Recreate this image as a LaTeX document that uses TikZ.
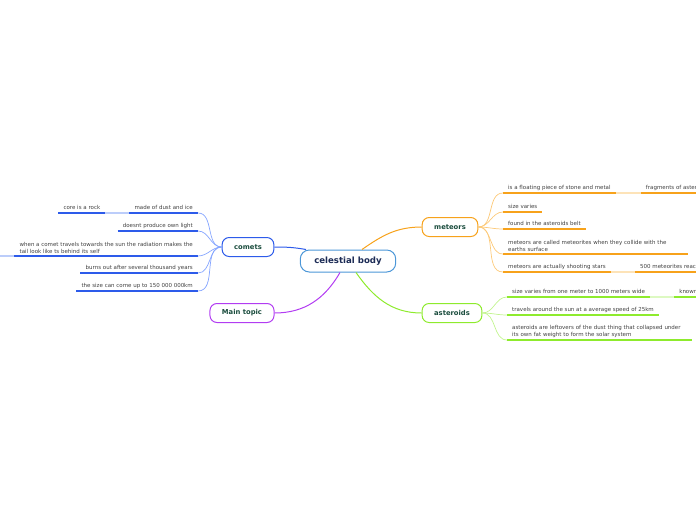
\documentclass[tikz,border=0pt]{standalone}
\usepackage{fontspec}
\setmainfont{DejaVu Sans}
\usetikzlibrary{positioning}
\definecolor{cbline}{HTML}{4C97D8}
\definecolor{cbtext}{HTML}{1C2B55}
\definecolor{topictext}{HTML}{1B4D3E}
\definecolor{leaftext}{HTML}{404040}
\definecolor{cometc}{HTML}{2D5BEA}
\definecolor{cometl}{HTML}{85A5FF}
\definecolor{cometg}{HTML}{BCCDFA}
\definecolor{meteorc}{HTML}{F7A21B}
\definecolor{meteorl}{HTML}{FCC978}
\definecolor{meteorg}{HTML}{FDE3B8}
\definecolor{asterc}{HTML}{8EEB2D}
\definecolor{asterl}{HTML}{C2F48F}
\definecolor{asterg}{HTML}{DDF9C2}
\definecolor{mainc}{HTML}{B23CF2}
\tikzset{
topic/.style={
  draw=#1,
  line width=1pt,
  fill=white,
  rounded corners=7pt,
  minimum height=19pt,
  inner xsep=12pt,
  text=topictext,
  font=\bfseries\fontsize{6.8}{8}\selectfont
  },
central/.style={
  topic=cbline,
  rounded corners=9pt,
  minimum height=22pt,
  inner xsep=14pt,
  text=cbtext,
  font=\bfseries\fontsize{8.6}{10}\selectfont
  },
leaf/.style={
  inner xsep=5pt,
  inner ysep=2pt,
  text height=4pt,
  text depth=1.2pt,
  align=left,
  text=leaftext,
  font=\fontsize{5.5}{7}\selectfont
  },
ml/.style={text height=,text depth=},
ul/.style={line width=1.6pt,draw=#1},
twig/.style={line width=0.7pt,draw=#1}
}

\begin{document}
\begin{tikzpicture}[x=1pt,y=-1pt]
\useasboundingbox (0,0) rectangle (696,520);
\clip (0,0) rectangle (696,520);

\node[central] (cb) at (348,261) {celestial body};
\node[topic=cometc] (comets) at (248,247) {comets};
\node[topic=mainc] (main) at (242,313) {Main topic};
\node[topic=meteorc] (meteors) at (450,227) {meteors};
\node[topic=asterc] (asteroids) at (452,313) {asteroids};

% comets
\node[leaf,anchor=south east] (dust) at (198,213) {made of dust and ice};
\node[leaf,left=24pt of dust] (rock) {core is a rock};
\node[leaf,anchor=south east] (light) at (198,231) {doesnt produce own light};
\node[leaf,ml,anchor=south east] (tail) at (198,256)
  {when a comet travels towards the sun the radiation makes the\\tail look like ts behind its self};
\node[leaf,anchor=south east] (burns) at (198,273) {burns out after several thousand years};
\node[leaf,anchor=south east] (size) at (198,291) {the size can come up to 150 000 000km};
\coordinate[left=30pt of tail.south west] (tailnext);

% meteors
\node[leaf,anchor=south west] (float) at (503,193) {is a floating piece of stone and metal};
\node[leaf,right=25pt of float] (frag) {fragments of asteroids};
\node[leaf,anchor=south west] (varies) at (503,212) {size varies};
\node[leaf,anchor=south west] (belt) at (503,229) {found in the asteroids belt};
\node[leaf,ml,anchor=south west,text width=175pt] (called) at (503,254)
  {meteors are called meteorites when they collide with the\\earths surface};
\node[leaf,anchor=south west] (stars) at (503,272) {meteors are actually shooting stars};
\node[leaf,right=24pt of stars] (reach) {500 meteorites reach};

% asteroids
\node[leaf,anchor=south west] (wide) at (507,297) {size varies from one meter to 1000 meters wide};
\node[leaf,right=24pt of wide] (known) {known};
\node[leaf,anchor=south west] (speed) at (507,315) {travels around the sun at a average speed of 25km};
\node[leaf,ml,anchor=south west,text width=175pt] (leftover) at (507,340)
  {asteroids are leftovers of the dust thing that collapsed under\\its own fat weight to form the solar system};

% main branches
\draw[twig=cometc,line width=1pt] ([xshift=-42pt]cb.north) to[out=170,in=0] (comets.east);
\draw[twig=meteorc,line width=1pt] ([xshift=14pt]cb.north) to[out=35,in=180] (meteors.west);
\draw[twig=mainc,line width=1pt] ([xshift=-8pt]cb.south) to[out=240,in=0] (main.east);
\draw[twig=asterc,line width=1pt] ([xshift=8pt]cb.south) to[out=-55,in=180] (asteroids.west);

% underlines
\draw[ul=cometc] (dust.south west) -- (dust.south east);
\draw[ul=cometc] (rock.south west) -- (rock.south east);
\draw[ul=cometc] (light.south west) -- (light.south east);
\draw[ul=cometc] (tail.south west) -- (tail.south east);
\draw[ul=cometc] (burns.south west) -- (burns.south east);
\draw[ul=cometc] (size.south west) -- (size.south east);
\draw[ul=meteorc] (float.south west) -- (float.south east);
\draw[ul=meteorc] (frag.south west) -- (frag.south east);
\draw[ul=meteorc] (varies.south west) -- (varies.south east);
\draw[ul=meteorc] (belt.south west) -- (belt.south east);
\draw[ul=meteorc] (called.south west) -- (called.south east);
\draw[ul=meteorc] (stars.south west) -- (stars.south east);
\draw[ul=meteorc] (reach.south west) -- (reach.south east);
\draw[ul=asterc] (wide.south west) -- (wide.south east);
\draw[ul=asterc] (known.south west) -- (known.south east);
\draw[ul=asterc] (speed.south west) -- (speed.south east);
\draw[ul=asterc] (leftover.south west) -- (leftover.south east);

% twigs
\draw[twig=cometl] (comets.west) to[out=180,in=0] (dust.south east);
\draw[twig=cometl] (comets.west) to[out=180,in=0] (light.south east);
\draw[twig=cometl] (comets.west) to[out=180,in=0] (tail.south east);
\draw[twig=cometl] (comets.west) to[out=180,in=0] (burns.south east);
\draw[twig=cometl] (comets.west) to[out=180,in=0] (size.south east);
\draw[twig=meteorl] (meteors.east) to[out=0,in=180] (float.south west);
\draw[twig=meteorl] (meteors.east) to[out=0,in=180] (varies.south west);
\draw[twig=meteorl] (meteors.east) to[out=0,in=180] (belt.south west);
\draw[twig=meteorl] (meteors.east) to[out=0,in=180] (called.south west);
\draw[twig=meteorl] (meteors.east) to[out=0,in=180] (stars.south west);
\draw[twig=asterl] (asteroids.east) to[out=0,in=180] (wide.south west);
\draw[twig=asterl] (asteroids.east) to[out=0,in=180] (speed.south west);
\draw[twig=asterl] (asteroids.east) to[out=0,in=180] (leftover.south west);

% next level
\draw[ul=cometg] (rock.south east) -- (dust.south west);
\draw[ul=cometg] (tail.south west) -- (tailnext);
\draw[ul=meteorg] (float.south east) -- (frag.south west);
\draw[ul=meteorg] (stars.south east) -- (reach.south west);
\draw[ul=asterg] (wide.south east) -- (known.south west);
\end{tikzpicture}
\end{document}
